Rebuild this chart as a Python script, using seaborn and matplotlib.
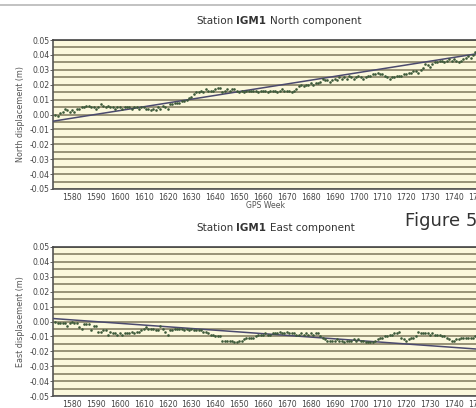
#!/usr/bin/env python3

import matplotlib
matplotlib.use("Agg")
import matplotlib.pyplot as plt
import numpy as np
import pandas as pd
import seaborn as sns

# weekly displacement solutions, station IGM1
weeks = list(range(1573, 1750))
north = [0.000, -0.001, 0.001, 0.002, 0.004, 0.003, 0.002,
         0.003, 0.002, 0.004, 0.004, 0.005, 0.005, 0.006, 0.006, 0.005, 0.005,
         0.004, 0.005, 0.007, 0.006, 0.005, 0.006, 0.005, 0.005, 0.004, 0.005,
         0.005, 0.004, 0.005, 0.005, 0.005, 0.004, 0.005, 0.005, 0.004, 0.005,
         0.005, 0.004, 0.004, 0.003, 0.004, 0.003, 0.005, 0.004, 0.006, 0.005,
         0.004, 0.007, 0.007, 0.008, 0.008, 0.008, 0.009, 0.009, 0.010, 0.011,
         0.012, 0.014, 0.015, 0.015, 0.016, 0.015, 0.017, 0.016, 0.016, 0.016,
         0.017, 0.018, 0.018, 0.015, 0.016, 0.017, 0.016, 0.017, 0.017, 0.016,
         0.015, 0.016, 0.015, 0.016, 0.016, 0.016, 0.016, 0.016, 0.015, 0.016,
         0.016, 0.016, 0.015, 0.016, 0.016, 0.016, 0.015, 0.016, 0.017, 0.016,
         0.016, 0.016, 0.015, 0.016, 0.017, 0.019, 0.020, 0.019, 0.020, 0.020,
         0.021, 0.020, 0.021, 0.021, 0.022, 0.024, 0.023, 0.023, 0.022, 0.023,
         0.024, 0.023, 0.025, 0.024, 0.025, 0.024, 0.026, 0.025, 0.024, 0.025,
         0.026, 0.025, 0.024, 0.025, 0.026, 0.026, 0.027, 0.027, 0.028, 0.027,
         0.027, 0.026, 0.025, 0.024, 0.025, 0.025, 0.026, 0.026, 0.026, 0.027,
         0.027, 0.028, 0.028, 0.029, 0.029, 0.028, 0.030, 0.031, 0.034, 0.033,
         0.032, 0.034, 0.035, 0.035, 0.036, 0.036, 0.035, 0.036, 0.037, 0.036,
         0.037, 0.036, 0.035, 0.036, 0.037, 0.038, 0.039, 0.038, 0.040, 0.042]
east = [0.000, -0.001, -0.001, -0.001, -0.001, -0.003, -0.001,
        0.000, -0.001, -0.001, -0.004, -0.005, -0.002, -0.002, -0.002, -0.006, -0.003,
        -0.003, -0.007, -0.007, -0.006, -0.006, -0.009, -0.007, -0.008, -0.008, -0.009,
        -0.008, -0.009, -0.008, -0.008, -0.008, -0.007, -0.008, -0.007, -0.007, -0.006,
        -0.005, -0.004, -0.005, -0.005, -0.005, -0.006, -0.006, -0.003, -0.005, -0.007,
        -0.009, -0.006, -0.006, -0.005, -0.005, -0.005, -0.005, -0.006, -0.005, -0.006,
        -0.005, -0.006, -0.006, -0.006, -0.006, -0.007, -0.007, -0.008, -0.009, -0.009,
        -0.010, -0.010, -0.010, -0.013, -0.013, -0.013, -0.013, -0.013, -0.014, -0.014,
        -0.013, -0.013, -0.012, -0.011, -0.011, -0.011, -0.011, -0.010, -0.009, -0.009,
        -0.009, -0.008, -0.009, -0.009, -0.008, -0.008, -0.008, -0.007, -0.008, -0.008,
        -0.007, -0.008, -0.008, -0.008, -0.009, -0.009, -0.008, -0.009, -0.008, -0.009,
        -0.008, -0.009, -0.008, -0.008, -0.010, -0.011, -0.012, -0.013, -0.013, -0.013,
        -0.013, -0.012, -0.013, -0.013, -0.014, -0.013, -0.013, -0.013, -0.012, -0.013,
        -0.012, -0.013, -0.013, -0.014, -0.014, -0.014, -0.014, -0.013, -0.012, -0.011,
        -0.011, -0.010, -0.010, -0.009, -0.009, -0.008, -0.008, -0.007, -0.011, -0.012,
        -0.013, -0.012, -0.011, -0.011, -0.010, -0.007, -0.008, -0.008, -0.008, -0.008,
        -0.009, -0.008, -0.009, -0.009, -0.009, -0.010, -0.010, -0.011, -0.012, -0.013,
        -0.013, -0.012, -0.012, -0.011, -0.011, -0.011, -0.011, -0.011, -0.011, -0.010]

# linear trend, end points
trend_weeks = [1572, 1750.5]
north_trend = [-0.0045, 0.041]
east_trend = [0.002, -0.0186]

station = "IGM1"
components = ["North", "East"]
ylabels = ["North displacement (m)", "East displacement (m)"]
xticks = list(range(1580, 1751, 10))
yticks = [-0.05, -0.04, -0.03, -0.02, -0.01, 0.00, 0.01, 0.02, 0.03, 0.04, 0.05]

sns.set_style("white")
plt.rcParams["font.family"] = ["DejaVu Sans"]
plt.rcParams["axes.unicode_minus"] = False

W, H = 477, 408
fig = plt.figure(figsize=(W / 100, H / 100), dpi=100)
fig.patch.set_facecolor("white")

# thin rule at the top of the page
fig.add_artist(plt.Line2D([0, 1], [1 - 5 / H, 1 - 5 / H], color="#b8b8b8", lw=1.2))

series = [north, east]
trends = [north_trend, east_trend]
ax_top = [40, 247]       # pixel rows of the axes tops
title_y = [21, 228]

for k in range(2):
    df = pd.DataFrame({"week": weeks, "disp": series[k]})
    tr = pd.DataFrame({"week": trend_weeks, "disp": trends[k]})
    ax = fig.add_axes([53 / W, 1 - (ax_top[k] + 149) / H, 426 / W, 149 / H])
    ax.set_facecolor("#fbf8dc")
    ax.set_axisbelow(True)
    sns.lineplot(data=tr, x="week", y="disp", ax=ax, color="#4b4a6e", lw=1.1, zorder=3)
    sns.scatterplot(data=df, x="week", y="disp", ax=ax, color="#3d5a3a", s=3.5,
                    marker="o", linewidth=0, zorder=4)
    ax.set_xlim(1572, 1750.5)
    ax.set_ylim(-0.05, 0.05)
    ax.set_xticks(xticks)
    ax.set_yticks(yticks)
    ax.set_yticks(np.array(yticks[:-1]) + 0.005, minor=True)
    ax.set_yticklabels(["%.2f" % v for v in yticks])
    ax.grid(True, axis="y", which="both", color="#7d775c", lw=1.1)
    ax.grid(False, axis="x")
    ax.tick_params(axis="x", length=0, pad=3, labelsize=5.6, colors="#444444")
    ax.tick_params(axis="y", which="major", length=2, width=0.6, pad=0.5, labelsize=5.6,
                   colors="#444444", direction="out", left=True)
    ax.tick_params(axis="y", which="minor", length=0)
    for side in ["left", "bottom", "top", "right"]:
        ax.spines[side].set_color("#555555")
        ax.spines[side].set_linewidth(1.2)
    ax.spines["top"].set_color("#444444")
    ax.set_ylabel(ylabels[k], fontsize=5.8, color="#555555", labelpad=3)
    if k == 0:
        ax.set_xlabel("GPS Week", fontsize=5.6, color="#555555", labelpad=-0.5)
    else:
        ax.set_xlabel("")

    ty = 1 - title_y[k] / H
    fig.text(233.5 / W, ty, "Station", ha="right", va="center", fontsize=7.5, color="#333333")
    fig.text(236.5 / W, ty, station, ha="left", va="center", fontsize=7.5,
             fontweight="bold", color="#333333")
    fig.text(270.5 / W, ty, components[k] + " component", ha="left", va="center",
             fontsize=7.5, color="#333333")

fig.text(405 / W, 1 - 221 / H, "Figure 5", ha="left", va="center", fontsize=13, color="#333333")

plt.savefig("out.png", dpi=100)
